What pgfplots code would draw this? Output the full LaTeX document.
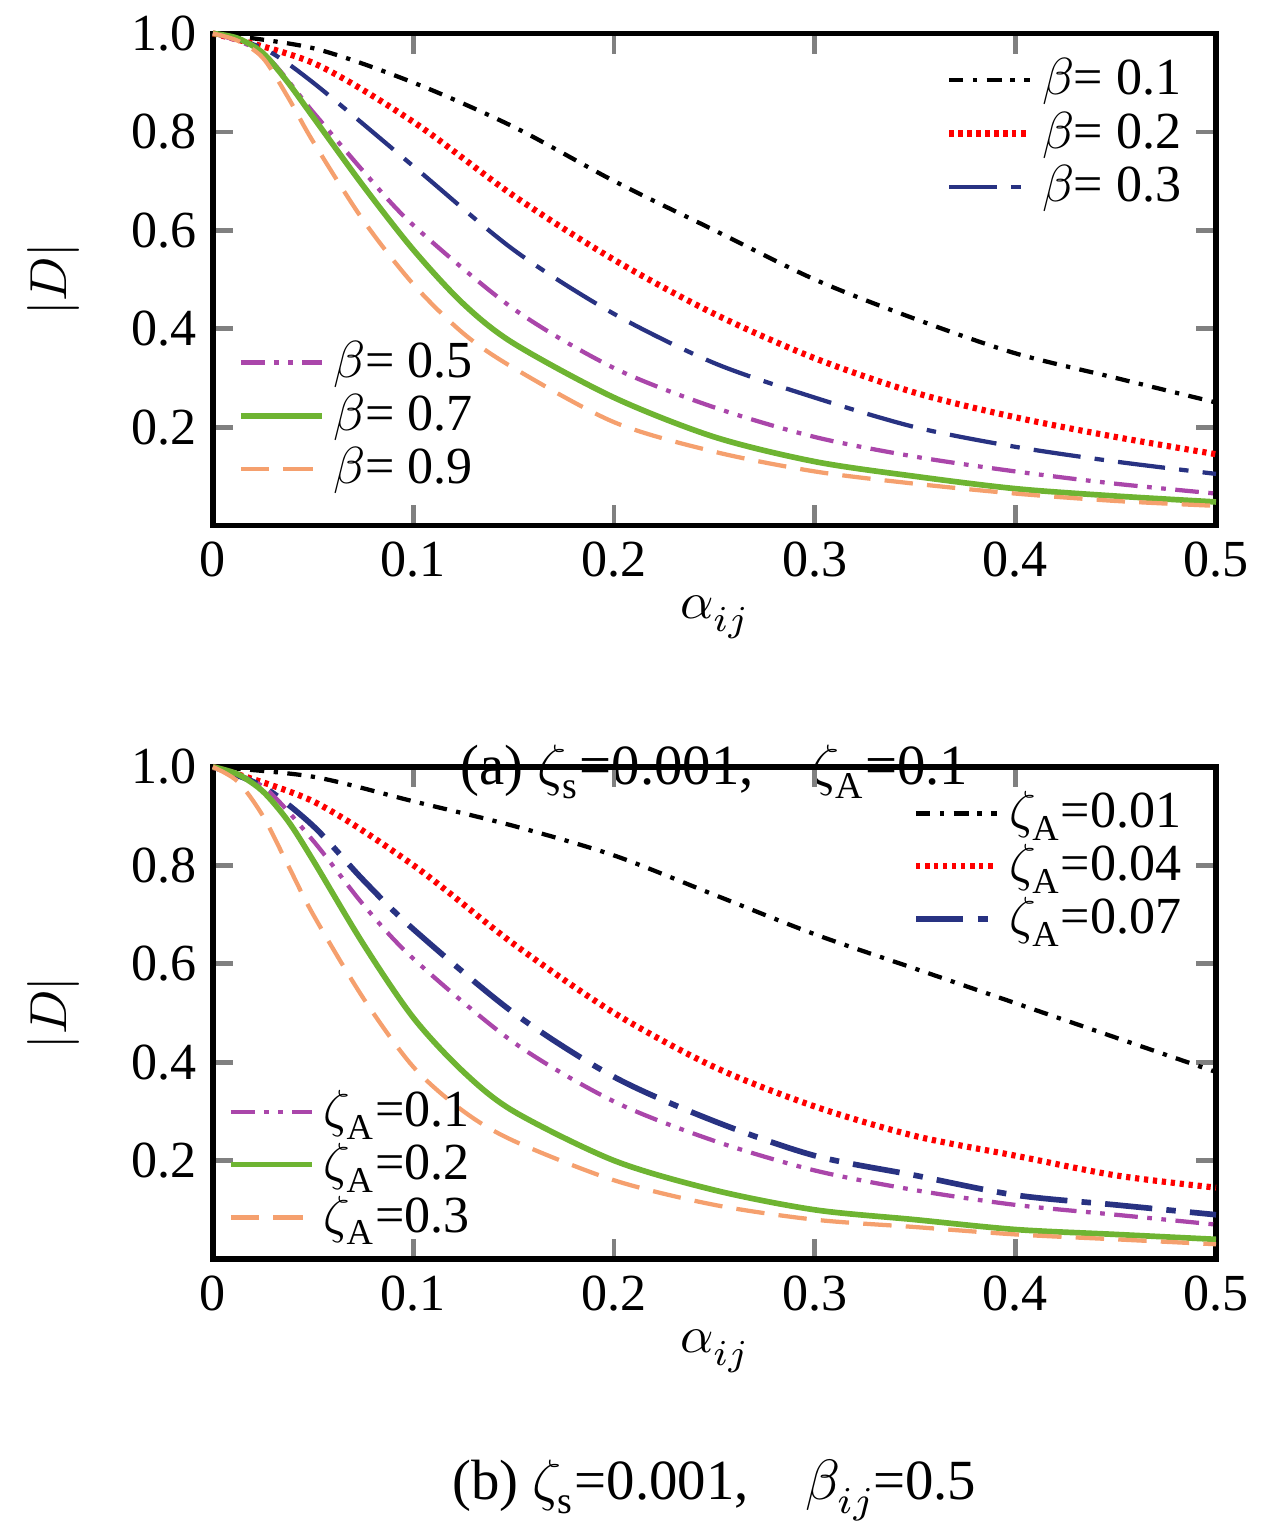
\documentclass[border=0pt]{standalone}
\usepackage{fontspec}
\setmainfont{Liberation Serif}
\usepackage{unicode-math}
\setmathfont{Latin Modern Math}
\usepackage{pgfplots}
\pgfplotsset{compat=1.18}
\definecolor{cb}{RGB}{40,50,130}
\definecolor{cp}{RGB}{170,70,170}
\definecolor{cg}{RGB}{110,180,50}
\definecolor{co}{RGB}{245,160,110}
\begin{document}
\pgfplotsset{base/.style={
  width=212pt, height=104pt, scale only axis, xmin=0, xmax=0.5, ymin=0, ymax=1,
  clip=false,
  axis line style={line width=1.2pt}, tick style={line width=1pt},
  tick align=inside, xtick={0,0.1,...,0.5}, ytick={0.2,0.4,0.6,0.8,1.0},
  xticklabels={0,0.1,0.2,0.3,0.4,0.5}, yticklabels={0.2,0.4,0.6,0.8,1.0},
  ticklabel style={font=\fontsize{11}{13}\selectfont},
  label style={font=\fontsize{11}{13}\selectfont},
  xlabel={$\alpha_{ij}$}, ylabel={$|D|$},
  ylabel style={yshift=4pt}, xlabel style={yshift=3pt},
  legend style={draw=none, fill=none, font=\fontsize{11}{13}\selectfont, row sep=-2pt},
  legend cell align=left,
  every axis plot/.append style={smooth, line width=0.9pt},
}, hid/.style={base, hide axis, legend style={at={(0.01,0.03)}, anchor=south west}}}
\begin{tikzpicture}
% ---------- (a)
\begin{axis}[base, legend style={at={(0.99,0.99)}, anchor=north east}]
\addplot[black, dash dot] coordinates {(0,1)(0.05,0.97)(0.1,0.9)(0.15,0.81)(0.2,0.7)(0.25,0.6)(0.3,0.5)(0.35,0.42)(0.4,0.35)(0.45,0.3)(0.5,0.25)};
\addplot[red, densely dotted, line width=1.3pt] coordinates {(0,1)(0.05,0.94)(0.1,0.82)(0.15,0.67)(0.2,0.54)(0.25,0.43)(0.3,0.34)(0.35,0.27)(0.4,0.22)(0.45,0.18)(0.5,0.145)};
\addplot[cb, dash pattern=on 10pt off 3pt on 2pt off 3pt] coordinates {(0,1)(0.025,0.97)(0.05,0.9)(0.1,0.73)(0.15,0.56)(0.2,0.43)(0.25,0.33)(0.3,0.26)(0.35,0.2)(0.4,0.16)(0.45,0.13)(0.5,0.105)};
\legend{$\beta$= 0.1,$\beta$= 0.2,$\beta$= 0.3}
\addplot[cp, dash pattern=on 5pt off 2pt on 1pt off 2pt on 1pt off 2pt] coordinates {(0,1)(0.025,0.96)(0.05,0.84)(0.075,0.72)(0.1,0.61)(0.15,0.44)(0.2,0.32)(0.25,0.24)(0.3,0.18)(0.35,0.14)(0.4,0.11)(0.45,0.085)(0.5,0.065)};
\addplot[cg, line width=1.2pt] coordinates {(0,1)(0.0125,0.99)(0.025,0.96)(0.0375,0.9)(0.05,0.83)(0.075,0.69)(0.1,0.56)(0.125,0.45)(0.15,0.37)(0.2,0.26)(0.25,0.18)(0.3,0.13)(0.35,0.1)(0.4,0.075)(0.45,0.06)(0.5,0.048)};
\addplot[co, dash pattern=on 6pt off 3pt] coordinates {(0,1)(0.0125,0.985)(0.025,0.95)(0.0375,0.87)(0.05,0.78)(0.075,0.62)(0.1,0.49)(0.125,0.39)(0.15,0.32)(0.2,0.21)(0.25,0.15)(0.3,0.11)(0.35,0.085)(0.4,0.065)(0.45,0.05)(0.5,0.04)};
\node[font=\fontsize{12}{14}\selectfont] at (axis cs:0.25,-0.5) {(a) $\zeta_{\mathrm{s}}$=0.001,\quad$\zeta_{\mathrm{A}}$=0.1};
\end{axis}
\begin{axis}[hid]
\addlegendimage{cp, line width=0.9pt, dash pattern=on 5pt off 2pt on 1pt off 2pt on 1pt off 2pt}
\addlegendimage{cg, line width=1.2pt}
\addlegendimage{co, line width=0.9pt, dash pattern=on 6pt off 3pt}
\legend{$\beta$= 0.5,$\beta$= 0.7,$\beta$= 0.9}
\end{axis}
% ---------- (b)
\begin{axis}[base, yshift=-155pt, legend style={at={(0.99,0.99)}, anchor=north east}]
\addplot[black, dash dot] coordinates {(0,1)(0.05,0.98)(0.1,0.93)(0.15,0.88)(0.2,0.82)(0.25,0.74)(0.3,0.66)(0.35,0.59)(0.4,0.52)(0.45,0.45)(0.5,0.38)};
\addplot[red, densely dotted, line width=1.3pt] coordinates {(0,1)(0.05,0.93)(0.1,0.8)(0.15,0.64)(0.2,0.5)(0.25,0.39)(0.3,0.31)(0.35,0.25)(0.4,0.21)(0.45,0.17)(0.5,0.145)};
\addplot[cb, dash pattern=on 10pt off 3pt on 2pt off 3pt, line width=1.2pt] coordinates {(0,1)(0.025,0.96)(0.05,0.88)(0.075,0.77)(0.1,0.67)(0.15,0.5)(0.2,0.37)(0.25,0.28)(0.3,0.21)(0.35,0.17)(0.4,0.13)(0.45,0.11)(0.5,0.09)};
\legend{$\zeta_{\mathrm{A}}$=0.01,$\zeta_{\mathrm{A}}$=0.04,$\zeta_{\mathrm{A}}$=0.07}
\addplot[cp, dash pattern=on 5pt off 2pt on 1pt off 2pt on 1pt off 2pt] coordinates {(0,1)(0.025,0.96)(0.05,0.85)(0.075,0.72)(0.1,0.61)(0.15,0.44)(0.2,0.32)(0.25,0.24)(0.3,0.18)(0.35,0.14)(0.4,0.11)(0.45,0.09)(0.5,0.07)};
\addplot[cg, line width=1.2pt] coordinates {(0,1)(0.0125,0.985)(0.025,0.95)(0.0375,0.89)(0.05,0.81)(0.075,0.64)(0.1,0.49)(0.125,0.38)(0.15,0.3)(0.2,0.2)(0.25,0.14)(0.3,0.1)(0.35,0.08)(0.4,0.06)(0.45,0.05)(0.5,0.04)};
\addplot[co, dash pattern=on 6pt off 3pt] coordinates {(0,1)(0.0125,0.97)(0.025,0.9)(0.0375,0.8)(0.05,0.7)(0.075,0.53)(0.1,0.39)(0.125,0.3)(0.15,0.24)(0.2,0.16)(0.25,0.11)(0.3,0.08)(0.35,0.065)(0.4,0.05)(0.45,0.04)(0.5,0.03)};
\node[font=\fontsize{12}{14}\selectfont] at (axis cs:0.25,-0.47) {(b) $\zeta_{\mathrm{s}}$=0.001,\quad$\beta_{ij}$=0.5};
\end{axis}
\begin{axis}[hid, yshift=-155pt, legend style={at={(0.0,0.0)}, anchor=south west}]
\addlegendimage{cp, line width=0.9pt, dash pattern=on 5pt off 2pt on 1pt off 2pt on 1pt off 2pt}
\addlegendimage{cg, line width=1.2pt}
\addlegendimage{co, line width=0.9pt, dash pattern=on 6pt off 3pt}
\legend{$\zeta_{\mathrm{A}}$=0.1,$\zeta_{\mathrm{A}}$=0.2,$\zeta_{\mathrm{A}}$=0.3}
\end{axis}
\end{tikzpicture}
\end{document}
